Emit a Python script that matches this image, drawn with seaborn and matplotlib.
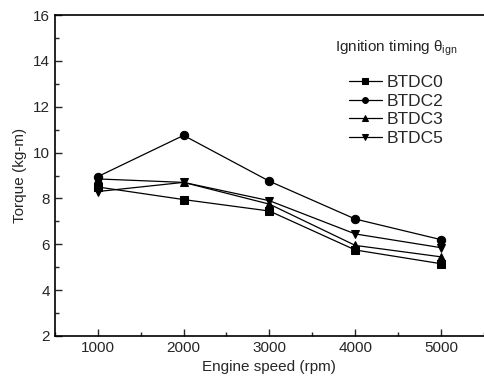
import matplotlib
matplotlib.use("Agg")
import matplotlib.pyplot as plt
import seaborn as sns
import pandas as pd
from matplotlib.ticker import MultipleLocator

speed = [1000, 2000, 3000, 4000, 5000]
btdc0 = [8.5, 7.95, 7.45, 5.75, 5.15]
btdc2 = [8.95, 10.75, 8.75, 7.1, 6.2]
btdc3 = [8.85, 8.7, 7.75, 5.95, 5.45]
btdc5 = [8.3, 8.7, 7.9, 6.45, 5.85]
names = ["BTDC0", "BTDC2", "BTDC3", "BTDC5"]

rows = []
for n, vals in zip(names, [btdc0, btdc2, btdc3, btdc5]):
    for s, v in zip(speed, vals):
        rows.append({"speed": s, "torque": v, "series": n})
df = pd.DataFrame(rows)

sns.set_style("ticks")
plt.rcParams['font.family'] = ['Liberation Sans', 'DejaVu Sans']
plt.rcParams['mathtext.fontset'] = 'custom'
plt.rcParams['mathtext.rm'] = 'Liberation Sans'

fig = plt.figure(figsize=(4.85, 3.87), dpi=100)
ax = fig.add_axes([0.113, 0.132, 0.885, 0.829])

markers = {"BTDC0": "s", "BTDC2": "o", "BTDC3": "^", "BTDC5": "v"}
sns.lineplot(data=df, x="speed", y="torque", style="series", markers=markers,
             dashes=False, color="black", markersize=6, linewidth=0.9,
             markeredgecolor="black", ax=ax)

ax.set_xlim(500, 5500)
ax.set_ylim(2, 16)
ax.xaxis.set_major_locator(MultipleLocator(1000))
ax.xaxis.set_minor_locator(MultipleLocator(500))
ax.yaxis.set_major_locator(MultipleLocator(2))
ax.yaxis.set_minor_locator(MultipleLocator(1))
ax.tick_params(which="both", direction="in", labelsize=11, width=1, top=False, right=False)
ax.tick_params(which="major", length=5)
ax.tick_params(which="minor", length=3)
for sp in ax.spines.values():
    sp.set_linewidth(1.2)
    sp.set_color("black")
ax.spines["right"].set_visible(False)
ax.set_xlabel("Engine speed (rpm)", fontsize=11)
ax.set_ylabel("Torque (kg-m)", fontsize=11)

leg = ax.legend(title="Ignition timing \u03b8$_{\\rm ign}$", loc="upper right",
                bbox_to_anchor=(0.975, 0.975), frameon=False, fontsize=12.5,
                title_fontsize=11, handlelength=1.9, labelspacing=0.2,
                handletextpad=0.3, markerscale=0.7)
leg._legend_box.sep = 12

fig.savefig("out.png", dpi=100)
